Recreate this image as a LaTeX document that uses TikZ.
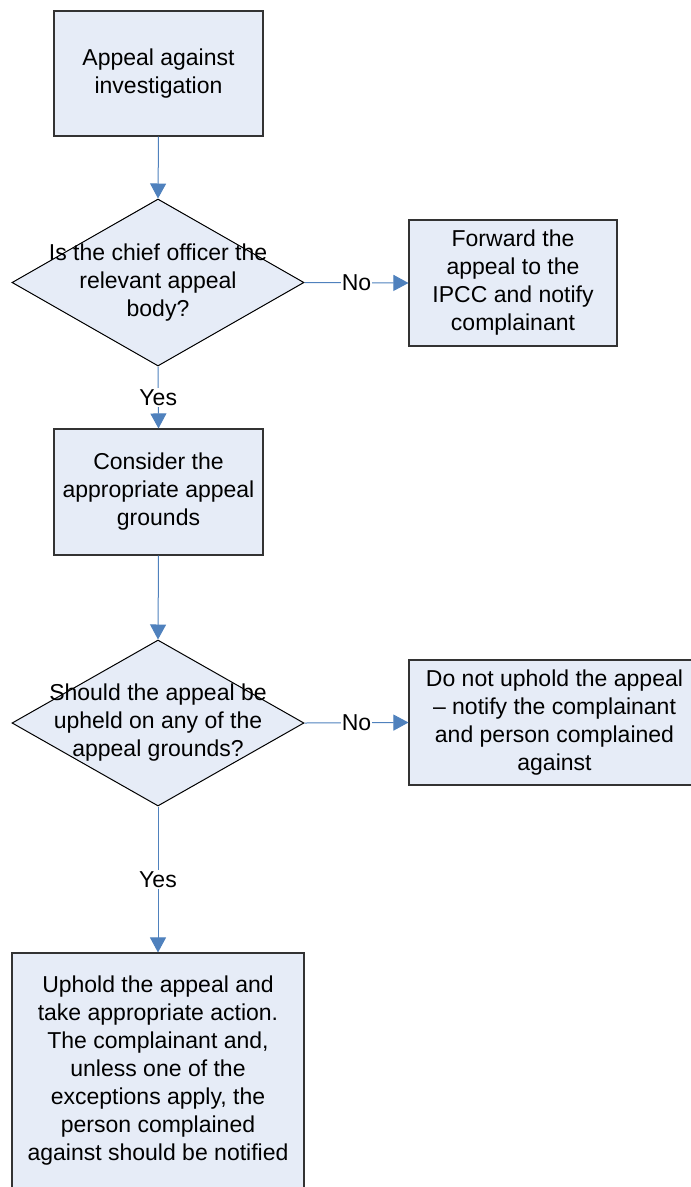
\documentclass[tikz,border=0pt]{standalone}
\usepackage{fontspec}
\setmainfont{Liberation Sans}
\usetikzlibrary{arrows.meta,shapes.geometric}
\definecolor{boxfill}{HTML}{E6ECF7}
\definecolor{linkblue}{HTML}{4F81BD}
\definecolor{edgegray}{HTML}{333333}
\begin{document}
\begin{tikzpicture}[x=1pt,y=-1pt,
  every node/.style={font=\fontsize{23}{28}\selectfont},
  stepbox/.style={draw=edgegray, line width=1.1pt, fill=boxfill, align=center, inner sep=0pt},
  decision/.style={draw=black, line width=1pt, fill=boxfill, shape=diamond, inner sep=0pt},
  link/.style={draw=linkblue, line width=1pt, -{Triangle[width=16pt,length=15pt]}},
  linklabel/.style={fill=white, inner sep=1pt}
]
\useasboundingbox (0,0) rectangle (691,1187);
\clip (0,0) rectangle (691,1187);

\node[stepbox, minimum width=209pt, minimum height=125pt] (appeal) at (158.5,73.5)
  {Appeal against\\investigation};
\node[decision, minimum width=292pt, minimum height=167pt] (chief) at (158,282.5) {};
\node[align=center] (chieftext) at (chief.center) {Is the chief officer the\\relevant appeal\\body?};
\node[stepbox, minimum width=208pt, minimum height=126pt] (forward) at (513,283)
  {Forward the\\appeal to the\\IPCC and notify\\complainant};
\node[stepbox, minimum width=209pt, minimum height=126pt] (consider) at (158.5,492)
  {Consider the\\appropriate appeal\\grounds};
\node[decision, minimum width=292pt, minimum height=166pt] (upheld) at (158,723) {};
\node[align=center] (upheldtext) at (upheld.center) {Should the appeal be\\upheld on any of the\\appeal grounds?};
\node[stepbox, minimum width=291pt, minimum height=125pt] (notuphold) at (554.5,722.5)
  {Do not uphold the appeal\\– notify the complainant\\and person complained\\against};
\node[stepbox, minimum width=292pt, minimum height=236pt] (uphold) at (158,1071)
  {Uphold the appeal and\\take appropriate action.\\The complainant and,\\unless one of the\\exceptions apply, the\\person complained\\against should be notified};

\draw[link] (appeal.south) -- (chief.north);
\draw[link] (chief.east) -- node[linklabel] {No} (forward.west);
\draw[link] (chief.south) -- node[linklabel] {Yes} (consider.north);
\draw[link] (consider.south) -- (upheld.north);
\draw[link] (upheld.east) -- node[linklabel] {No} (notuphold.west);
\draw[link] (upheld.south) -- node[linklabel] {Yes} (uphold.north);
\end{tikzpicture}
\end{document}
